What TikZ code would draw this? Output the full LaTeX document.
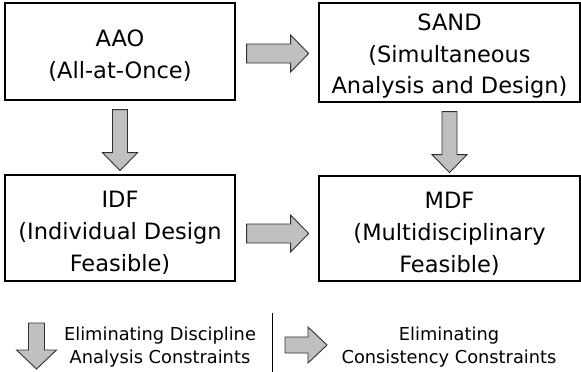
\documentclass[tikz,border=0pt]{standalone}
\usepackage{fontspec}
\setmainfont{DejaVu Sans}
\definecolor{arrowfill}{HTML}{C0C0C0}
\definecolor{arrowline}{HTML}{303030}
\tikzset{
  stage/.style={draw=black, line width=1.2pt, fill=white, inner sep=0pt},
  stagetext/.style={align=center, inner sep=0pt, font=\fontsize{22.5}{31.8}\selectfont},
  legendtext/.style={align=center, inner sep=0pt, font=\fontsize{17.8}{23}\selectfont},
  barrow/.style={fill=arrowfill, draw=arrowline, line width=0.9pt, line join=miter},
}
% block arrow: #1 start point, #2 rotation, #3 length, #4 shaft width,
% #5 head width, #6 head length
\newcommand{\blockarrow}[6]{%
  \begin{scope}[shift={#1}, rotate=#2]
    \filldraw[barrow] (0,-#4/2) -- ({#3-#6},-#4/2) -- ({#3-#6},-#5/2) -- (#3,0)
      -- ({#3-#6},#5/2) -- ({#3-#6},#4/2) -- (0,#4/2) -- cycle;
  \end{scope}}
\begin{document}
\begin{tikzpicture}[x=1pt,y=-1pt]
  \useasboundingbox (0,0) rectangle (581,372);

  % the four formulations
  \node[stage, minimum width=230pt, minimum height=97pt] (aao) at (120,51.5) {};
  \node[stage, minimum width=261pt, minimum height=99pt] (sand) at (449.5,52.5) {};
  \node[stage, minimum width=230pt, minimum height=106pt] (idf) at (120,228) {};
  \node[stage, minimum width=261pt, minimum height=105pt] (mdf) at (449.5,228.5) {};
  \node[stagetext, yshift=-4pt] (aaotext) at (aao.center) {AAO\\(All-at-Once)};
  \node[stagetext, yshift=-3.5pt] (sandtext) at (sand.center)
    {SAND\\(Simultaneous\\Analysis and Design)};
  \node[stagetext, yshift=-5pt] (idftext) at (idf.center)
    {IDF\\(Individual Design\\Feasible)};
  \node[stagetext, yshift=-5pt] (mdftext) at (mdf.center)
    {MDF\\(Multidisciplinary\\Feasible)};

  % block arrows between the formulations
  \coordinate (a2s) at ([xshift=11pt]aao.east |- 0,53.5);
  \coordinate (i2m) at ([xshift=11pt]idf.east |- 0,233.5);
  \coordinate (a2i) at ([yshift=-9pt]aao.south);
  \coordinate (s2m) at ([yshift=-9pt]sand.south);
  \blockarrow{(a2s)}{0}{62}{19}{37}{18}
  \blockarrow{(i2m)}{0}{62}{19}{37}{18}
  \blockarrow{(a2i)}{-90}{61}{15}{35}{18}
  \blockarrow{(s2m)}{-90}{61}{15}{35}{18}

  % legend
  \coordinate (lgdown) at (36.5,323);
  \coordinate (lgright) at (285,345);
  \blockarrow{(lgdown)}{-90}{46}{16}{40}{19}
  \blockarrow{(lgright)}{0}{42}{16}{36}{19}
  \node[legendtext] (lgdowntext) at (160,347)
    {Eliminating Discipline\\Analysis Constraints};
  \node[legendtext] (lgrighttext) at (449,347)
    {Eliminating\\Consistency Constraints};
  \coordinate (septop) at (272,313);
  \coordinate (sepbot) at (272,372);
  \draw[line width=1pt] (septop) -- (sepbot);
\end{tikzpicture}
\end{document}
